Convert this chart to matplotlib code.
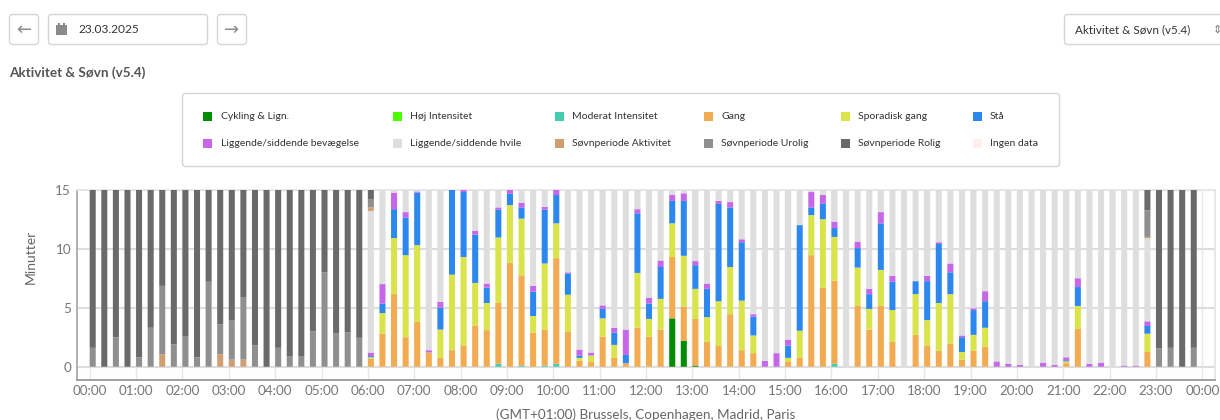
import matplotlib
matplotlib.use('Agg')
import matplotlib.pyplot as plt
from matplotlib.patches import FancyBboxPatch, Rectangle

plt.rcParams['font.family'] = ['Lato', 'DejaVu Sans']

# ====================== DATA (minutes per 15 min bin, 00:00 -> 23:45) ======================
cykling = [0]*50 + [4.1, 2.2, 0.1] + [0]*43
hoej = [0]*96
moderat = [0]*35 + [0.25, 0, 0.1, 0, 0.1, 0.25] + [0]*23 + [0.25] + [0]*31
gang = [0]*24 + [0.7, 2.8, 6.15, 2.5, 3.8, 1.2, 0.75, 1.4, 1.8, 3.5, 3.1, 5.15,
                 8.8, 7.65, 2.9, 3.05, 8.95, 2.95, 0.5, 0.4, 2.55, 0.75, 0.3, 3.3,
                 2.55, 3.15, 5.2, 2.9, 3.95, 2.1, 1.75, 4.45, 1.4, 1.15, 0, 0,
                 0.4, 0.75, 9.45, 6.7, 7.05, 0, 5.15, 3.15, 5.15, 2.1, 0, 2.7,
                 1.8, 1.35, 1.95, 0.6, 1.35, 1.7, 0, 0, 0, 0, 0, 0,
                 0.3, 3.2, 0, 0, 0, 0, 0, 1.25, 0, 0, 0, 0]
sporadisk = [0]*24 + [0.1, 1.75, 4.75, 6.95, 6.5, 0, 2.4, 6.4, 7.5, 3.6, 2.3, 5.55,
                      4.9, 4.8, 1.4, 5.6, 2.95, 3.15, 0.25, 0.55, 1.55, 1.1, 0, 4.65,
                      1.5, 2.6, 2.85, 4.3, 2.55, 2.1, 3.8, 4.0, 4.2, 1.5, 0, 0,
                      0.35, 2.3, 3.4, 5.8, 3.7, 0, 3.25, 1.75, 3.05, 2.7, 0, 3.45,
                      2.15, 4.05, 4.2, 0.65, 1.35, 1.6, 0, 0, 0, 0, 0, 0,
                      0.15, 1.95, 0, 0, 0, 0, 0, 1.55, 0, 0, 0, 0]
staa = [0]*24 + [0.1, 0.8, 2.45, 3.2, 4.45, 0, 1.85, 7.2, 5.5, 4.1, 1.3, 2.35,
                 0.95, 0.95, 2.05, 4.55, 2.4, 1.8, 0.2, 0, 0.8, 1.05, 0.7, 5.05,
                 1.3, 2.7, 1.9, 4.65, 2.0, 2.4, 8.25, 5.05, 4.95, 1.6, 0, 0,
                 1.05, 8.95, 0.65, 1.3, 0.75, 0, 1.65, 1.25, 3.95, 2.4, 0, 1.1,
                 3.3, 5.0, 1.85, 1.25, 2.1, 2.25, 0, 0, 0, 0, 0, 0,
                 0.1, 1.6, 0, 0, 0, 0, 0, 0.65, 0, 0, 0, 0]
bevaegelse = [0]*24 + [0.3, 1.65, 1.4, 0.45, 0.1, 0.2, 0.5, 0, 0.2, 0.3, 0.35, 0.2,
                       0.35, 0.4, 0.5, 0.25, 0.45, 0.1, 0.5, 0.25, 0.3, 0.4, 2.15, 0.35,
                       0.5, 0.55, 0.5, 0.65, 0.35, 0.45, 0.25, 0.45, 0.25, 0.2, 0.5, 1.15,
                       0.5, 0, 1.3, 0.75, 0.55, 0, 0.55, 0.45, 0.95, 0.5, 0, 0,
                       0.45, 0.15, 0.75, 0.15, 0.15, 0.85, 0.45, 0.25, 0.15, 0, 0.35, 0.15,
                       0.25, 0.75, 0.25, 0.35, 0, 0.1, 0.1, 0.4, 0, 0, 0, 0]
hvile = [0]*24 + [12.0, 8.0, 0.25, 1.9, 0.15, 13.6, 9.5, 0, 0, 3.5, 7.95, 1.5,
                  0, 1.1, 8.15, 1.45, 0, 7.0, 13.55, 13.8, 9.8, 11.7, 11.85, 1.65,
                  9.15, 6.0, 0.45, 0.3, 6.05, 7.95, 0.95, 1.05, 4.2, 10.55, 14.5, 13.85,
                  12.7, 3.0, 0.2, 0.45, 2.7, 15, 4.4, 8.4, 1.9, 7.3, 15, 7.75,
                  7.3, 4.45, 6.25, 12.35, 10.05, 8.6, 14.55, 14.75, 14.85, 15, 14.65, 14.85,
                  14.2, 7.5, 14.75, 14.65, 15, 14.9, 14.9, 7.05, 0, 0, 0, 0]
soevn_aktivitet = [0, 0, 0, 0, 0, 0, 1.05, 0, 0, 0, 0, 1.05, 0.6, 0.6] + [0]*10 + [0.3] + [0]*66 + [0.1, 0, 0, 0, 0]
soevn_urolig = [1.6, 0, 2.5, 0, 0.8, 3.3, 5.8, 1.9, 2.6, 0.8, 7.2, 2.55,
                3.35, 5.3, 1.8, 0, 1.6, 0.9, 0.9, 3.0, 8.0, 2.85, 2.9, 2.45,
                0.7] + [0]*66 + [2.25, 1.55, 1.6, 0, 1.6]
soevn_rolig = [13.4, 15, 12.5, 15, 14.2, 11.7, 8.15, 13.1, 12.4, 14.2, 7.8, 11.4,
               11.05, 9.1, 13.2, 15, 13.4, 14.1, 14.1, 12.0, 7.0, 12.15, 12.1, 12.55,
               0.8] + [0]*66 + [1.75, 13.45, 13.4, 15, 13.4]

series = [cykling, hoej, moderat, gang, sporadisk, staa, bevaegelse, hvile,
          soevn_aktivitet, soevn_urolig, soevn_rolig]
colors = ['#008c00', '#4cff00', '#45cdb0', '#f2ab50', '#d8e44a', '#2c88ee',
          '#c567e8', '#dedede', '#cf9f73', '#8f8f8f', '#6a6a6a']

legend_labels = [['Cykling & Lign.', 'Høj Intensitet', 'Moderat Intensitet', 'Gang', 'Sporadisk gang', 'Stå'],
                 ['Liggende/siddende bevægelse', 'Liggende/siddende hvile', 'Søvnperiode Aktivitet',
                  'Søvnperiode Urolig', 'Søvnperiode Rolig', 'Ingen data']]
legend_colors = [['#008c00', '#4cff00', '#45cdb0', '#f2ab50', '#d8e44a', '#2c88ee'],
                 ['#c567e8', '#dedede', '#cf9f73', '#8f8f8f', '#6a6a6a', '#ffeeee']]
hour_labels = ['%02d:00' % (h % 24) for h in range(25)]
y_ticks = [0, 5, 10, 15]

W, H = 1220, 420
fig = plt.figure(figsize=(W/100, H/100), dpi=100, facecolor='white')

# ====================== CHART ======================
ax = fig.add_axes([76.7/W, 1 - 379.7/H, (1215 - 76.7)/W, (379.7 - 189.7)/H])
times = [i*0.25 for i in range(96)]
bottom = [0.0]*96
for vals, col in zip(series, colors):
    bars = ax.bar(times, vals, width=0.13, bottom=bottom, align='edge', color=col, linewidth=0, zorder=3)
    for b in bars:
        b.set_snap(False)   # keep the soft bar edges of the screenshot
    bottom = [b + v for b, v in zip(bottom, vals)]

ax.set_ylim(-1.1, 15)
ax.set_xlim(-13.0/46.36, (1215 - 89.7)/46.36)
ax.set_xticks(range(25))
ax.set_xticklabels(hour_labels)
ax.set_yticks(y_ticks)
ax.grid(True, axis='y', color='#dddddd', lw=1.5, zorder=0)
ax.grid(True, axis='x', color='#e6e6e6', lw=1.0, zorder=0)
ax.set_axisbelow(True)
ax.tick_params(axis='both', length=0, labelsize=9.7, labelcolor='#777777')
ax.tick_params(axis='x', pad=3.5)
ax.tick_params(axis='y', pad=4)
for name, col, lw in [('left', '#aaaaaa', 1.3), ('bottom', '#999999', 1.3),
                      ('top', '#e6e6e6', 1.3), ('right', '#e6e6e6', 1.3)]:
    ax.spines[name].set_color(col)
    ax.spines[name].set_linewidth(lw)

# ====================== PAGE ELEMENTS (pixel coordinates) ======================
ui = fig.add_axes([0, 0, 1, 1], zorder=5)
ui.set_xlim(0, W)
ui.set_ylim(H, 0)
ui.axis('off')
ui.patch.set_alpha(0)

def box(x0, y0, x1, y1, ec='#d5d5d5'):
    ui.add_patch(FancyBboxPatch((x0, y0), x1 - x0, y1 - y0, boxstyle='round,pad=0,rounding_size=3',
                                fc='white', ec=ec, lw=1.0, clip_on=False))

box(9.5, 14.5, 38.5, 44.5)
box(48.5, 14.5, 207.5, 44.5)
box(217.5, 14.5, 246.5, 44.5)
box(1064.5, 14.5, 1240, 44.5)
ui.text(24, 29.5, '←', family='DejaVu Sans', fontsize=13, color='#8a8a8a', ha='center', va='center')
ui.text(232, 29.5, '→', family='DejaVu Sans', fontsize=13, color='#8a8a8a', ha='center', va='center')
# calendar icon
ui.add_patch(Rectangle((56, 25), 11, 10, fc='#8a8a8a', ec='none'))
ui.add_patch(Rectangle((56, 27.5), 11, 0.8, fc='white', ec='none'))
ui.add_patch(Rectangle((58.3, 23), 1.3, 3, fc='#8a8a8a', ec='none'))
ui.add_patch(Rectangle((63.3, 23), 1.3, 3, fc='#8a8a8a', ec='none'))
ui.text(78, 29.5, '23.03.2025', fontsize=8.6, color='#333333', va='center')
ui.text(1075, 29.5, 'Aktivitet & Søvn (v5.4)', fontsize=8.4, color='#333333', va='center')
ui.text(1217, 29.5, '⇕', family='DejaVu Sans', fontsize=8, color='#777777', ha='center', va='center')
ui.text(9, 73, 'Aktivitet & Søvn (v5.4)', fontsize=9.7, fontweight='bold', color='#555555', va='center')

box(182.5, 93.5, 1059.5, 166.5)
swatch_x = [203, 393, 555, 704, 841, 973]
text_x = [221, 410, 572, 721, 858, 990]
row_y = [116.5, 143]
for row, y in enumerate(row_y):
    for col in range(6):
        ui.add_patch(Rectangle((swatch_x[col], y - 4.5), 9, 9, fc=legend_colors[row][col], ec='none'))
        ui.text(text_x[col], y, legend_labels[row][col], fontsize=7.5, color='#333333', va='center')

ui.text(31, 257, 'Minutter', fontsize=10, color='#666666', rotation=90, ha='center', va='center')
ui.text(646, 414.5, '(GMT+01:00) Brussels, Copenhagen, Madrid, Paris', fontsize=9.7, color='#666666',
        ha='center', va='center')

fig.savefig('out.png', dpi=100)
